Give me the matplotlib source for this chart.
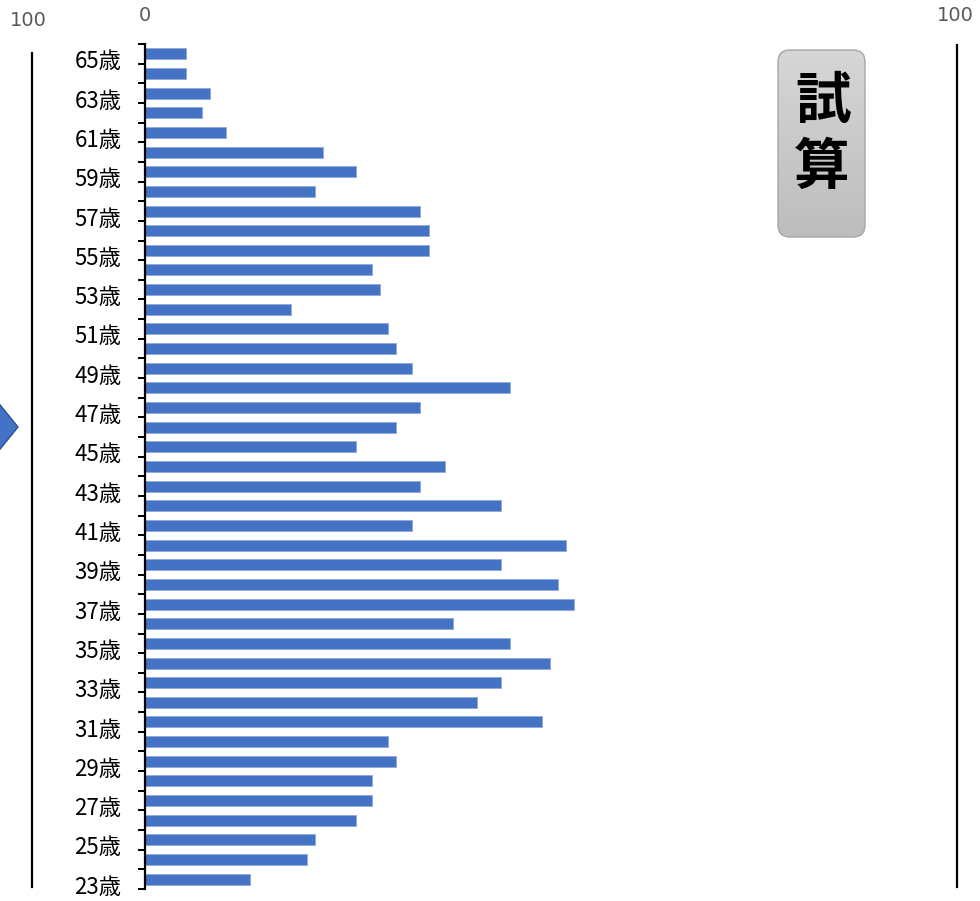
import numpy as np
import matplotlib
matplotlib.use('Agg')
import matplotlib.pyplot as plt
import matplotlib.transforms as mtransforms
from matplotlib.colors import LinearSegmentedColormap
from matplotlib.patches import FancyBboxPatch, Polygon

plt.rcParams['font.family'] = ['Noto Sans CJK JP', 'DejaVu Sans']

# ages from bottom (23) to top (65) and bar values
ages = list(range(23, 66))
values = [13, 20, 21, 26, 28, 28, 31, 30, 49, 41,
          44, 50, 45, 38, 53, 51, 44, 52, 33, 44,
          34, 37, 26, 31, 34, 45, 33, 31, 30, 18,
          29, 28, 35, 35, 34, 21, 26, 22, 10, 7,
          8, 5, 5]
age_labels = [f'{a}歳' for a in ages]
x_ticks = [0, 100]
bar_color = '#4472c4'

W, H = 980, 901
fig = plt.figure(figsize=(W / 100, H / 100), dpi=100)

# main bar chart, placed in pixel terms
left, right, top, bottom = 145, 955, 44, 889
ax = fig.add_axes([left / W, 1 - bottom / H, (right - left) / W, (bottom - top) / H])

y = np.arange(len(ages))
ax.barh(y, values, height=0.56, color=bar_color, edgecolor='#8faadc', linewidth=0.6)
ax.set_xlim(0, 100)
ax.set_ylim(-0.5, len(ages) - 0.5)

for s in ['top', 'right', 'bottom']:
    ax.spines[s].set_visible(False)
ax.spines['left'].set_linewidth(1.6)
ax.spines['left'].set_color('black')

# tick marks between categories, labels on every other age
ax.set_yticks(np.arange(len(ages) + 1) - 0.5)
ax.set_yticklabels([])
ax.tick_params(axis='y', which='major', length=5, width=1.4, color='black')
odd = [i for i, a in enumerate(ages) if a % 2 == 1]
ax.set_yticks(odd, [age_labels[i] for i in odd], minor=True)
ax.tick_params(axis='y', which='minor', length=0, pad=17, labelsize=16, labelcolor='black')
shift = mtransforms.ScaledTranslation(0, -4 / 72, fig.dpi_scale_trans)
for lbl in ax.get_yticklabels(minor=True):
    lbl.set_transform(lbl.get_transform() + shift)

ax.xaxis.set_ticks_position('top')
ax.set_xticks(x_ticks, [str(t) for t in x_ticks])
ax.tick_params(axis='x', length=0, pad=14, labelsize=14, labelcolor='#595959')
for lbl in ax.get_xticklabels():
    lbl.set_fontfamily(['DejaVu Sans'])

# overlay in pixel coords for the surrounding shapes
ov = fig.add_axes([0, 0, 1, 1])
ov.set_xlim(0, W)
ov.set_ylim(H, 0)
ov.axis('off')
ov.patch.set_alpha(0)

# neighbouring axis lines and label
ov.plot([32, 32], [53, 887], color='black', lw=1.6)
ov.plot([957, 957], [45, 887], color='black', lw=1.6)
ov.text(28, 21, '100', ha='center', va='center', fontsize=14, color='#595959',
        family=['DejaVu Sans'])

# arrow shape cut by the left edge
ov.add_patch(Polygon([(-12, 390), (18, 427), (-12, 464)], closed=True,
                     facecolor=bar_color, edgecolor='#2f528f', lw=1))

# 試算 button with grey gradient
bx, by, bw, bh = 778, 50, 87, 187
btn = FancyBboxPatch((bx, by), bw, bh, boxstyle='round,pad=0,rounding_size=12',
                     facecolor='none', edgecolor='#a6a6a6', lw=1, zorder=3)
ov.add_patch(btn)
grad = np.linspace(0, 1, 100).reshape(-1, 1)
cmap = LinearSegmentedColormap.from_list('g', ['#d6d6d6', '#bdbdbd'])
im = ov.imshow(grad, extent=(bx, bx + bw, by + bh, by), cmap=cmap,
               aspect='auto', origin='upper', zorder=2)
im.set_clip_path(btn)
ov.text(823, 102, '試', ha='center', va='center', fontsize=40, fontweight='bold', zorder=4)
ov.text(822, 168, '算', ha='center', va='center', fontsize=40, fontweight='bold', zorder=4)
ov.set_xlim(0, W)
ov.set_ylim(H, 0)

fig.savefig('out.png', dpi=100)
